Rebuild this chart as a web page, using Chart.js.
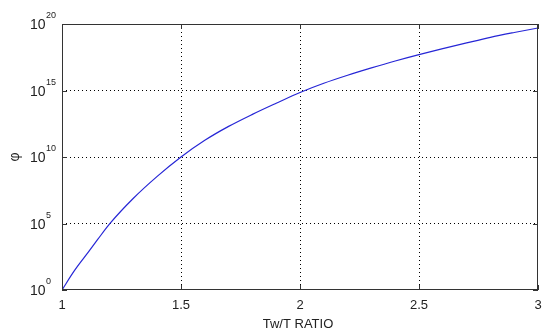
<!DOCTYPE html>
<html>
<head>
<meta charset="utf-8">
<script src="https://cdn.jsdelivr.net/npm/chart.js@4/dist/chart.umd.min.js"></script>
<style>
  html, body { margin: 0; padding: 0; background: #ffffff; }
  #c { display: block; }
</style>
</head>
<body>
<canvas id="c" width="543" height="331"></canvas>
<script>
// Data
const tRatio = [1.0, 1.05, 1.1, 1.15, 1.2, 1.3, 1.4, 1.5, 1.6, 1.7, 1.8, 1.9, 2.0,
                2.1, 2.2, 2.3, 2.4, 2.5, 2.6, 2.7, 2.8, 2.9, 3.0];
const phi = [1, 2.5e1, 4.0e2, 6.3e3, 9.3e4, 7.9e6, 3.5e8, 1.0e10, 1.8e11, 2.0e12, 1.6e13,
             1.1e14, 7.1e14, 3.5e15, 1.4e16, 5.0e16, 1.66e17, 5.0e17, 1.4e18, 3.8e18,
             1.0e19, 2.3e19, 5.0e19];
const xTicks = [1, 1.5, 2, 2.5, 3];
const xTickLabels = ['1', '1.5', '2', '2.5', '3'];
const yTickExponents = [0, 5, 10, 15, 20];
const xTitle = 'Tw/T RATIO';
const yTitle = 'φ';

const points = tRatio.map((x, i) => ({ x: x, y: phi[i] }));

const edgeTransparent = (lo, hi) => (ctx) => {
  const v = ctx.tick ? ctx.tick.value : null;
  if (v === null) return 'rgba(0,0,0,0)';
  if (Math.abs(v - lo) / Math.max(1, Math.abs(lo)) < 1e-9 || Math.abs(v - hi) / Math.max(1, Math.abs(hi)) < 1e-9) return 'rgba(0,0,0,0)';
  return '#000000';
};

const framePlugin = {
  id: 'frame',
  afterDraw(chart) {
    const ctx = chart.ctx;
    const a = chart.chartArea;
    const xs = chart.scales.x, ys = chart.scales.y;
    ctx.save();
    // box
    ctx.lineWidth = 1;
    ctx.strokeStyle = '#333333';
    ctx.strokeRect(Math.round(a.left) + 0.5, Math.round(a.top) + 0.5,
                   Math.round(a.right - a.left) - 1, Math.round(a.bottom - a.top) - 1);
    // inward tick marks
    const L = 5;
    ctx.beginPath();
    xTicks.forEach(v => {
      const px = Math.round(xs.getPixelForValue(v)) + 0.5;
      ctx.moveTo(px, a.bottom); ctx.lineTo(px, a.bottom - L);
      ctx.moveTo(px, a.top); ctx.lineTo(px, a.top + L);
    });
    yTickExponents.forEach(e => {
      const py = Math.round(ys.getPixelForValue(Math.pow(10, e))) + 0.5;
      ctx.moveTo(a.left, py); ctx.lineTo(a.left + L, py);
      ctx.moveTo(a.right, py); ctx.lineTo(a.right - L, py);
    });
    ctx.stroke();

    // x tick labels
    ctx.fillStyle = '#222222';
    ctx.font = '13px "Liberation Sans", Arial, sans-serif';
    ctx.textAlign = 'center';
    ctx.textBaseline = 'alphabetic';
    xTicks.forEach((v, i) => {
      ctx.fillText(xTickLabels[i], xs.getPixelForValue(v), a.bottom + 19);
    });
    // y tick labels 10^n
    yTickExponents.forEach(e => {
      const py = ys.getPixelForValue(Math.pow(10, e));
      ctx.textAlign = 'left';
      ctx.font = '14px "Liberation Sans", Arial, sans-serif';
      ctx.fillText('10', 30, py + 5);
      const w = ctx.measureText('10').width;
      ctx.font = '9px "Liberation Sans", Arial, sans-serif';
      ctx.fillText(String(e), 30 + w + 0.5, py - 6);
    });
    // axis titles
    ctx.font = '13px "Liberation Sans", Arial, sans-serif';
    ctx.textAlign = 'center';
    ctx.fillText(xTitle, (a.left + a.right) / 2 - 2, a.bottom + 38);
    ctx.save();
    ctx.translate(15, (a.top + a.bottom) / 2);
    ctx.rotate(-Math.PI / 2);
    ctx.textBaseline = 'middle';
    ctx.font = '14px "Liberation Sans", Arial, sans-serif';
    ctx.fillText(yTitle, 0, 0);
    ctx.restore();
    ctx.restore();
  }
};

new Chart(document.getElementById('c'), {
  type: 'line',
  data: {
    datasets: [{
      data: points,
      borderColor: '#2626d6',
      borderWidth: 1.2,
      pointRadius: 0,
      fill: false,
      cubicInterpolationMode: 'monotone'
    }]
  },
  options: {
    responsive: false,
    animation: false,
    events: [],
    layout: { padding: { top: 24, right: 5, left: 0, bottom: 0 } },
    plugins: { legend: { display: false }, tooltip: { enabled: false } },
    scales: {
      x: {
        type: 'linear',
        min: 1, max: 3,
        afterBuildTicks: (s) => { s.ticks = xTicks.map(v => ({ value: v })); },
        afterFit: (s) => { s.height = 41; },
        ticks: { display: false },
        grid: { color: edgeTransparent(1, 3), lineWidth: 1, drawTicks: false },
        border: { display: false, dash: [1, 3] }
      },
      y: {
        type: 'logarithmic',
        min: 1, max: 1e20,
        afterBuildTicks: (s) => { s.ticks = yTickExponents.map(e => ({ value: Math.pow(10, e) })); },
        afterFit: (s) => { s.width = 62; },
        ticks: { display: false },
        grid: { color: edgeTransparent(1, 1e20), lineWidth: 1, drawTicks: false },
        border: { display: false, dash: [1, 3] }
      }
    }
  },
  plugins: [framePlugin]
});
</script>
</body>
</html>
